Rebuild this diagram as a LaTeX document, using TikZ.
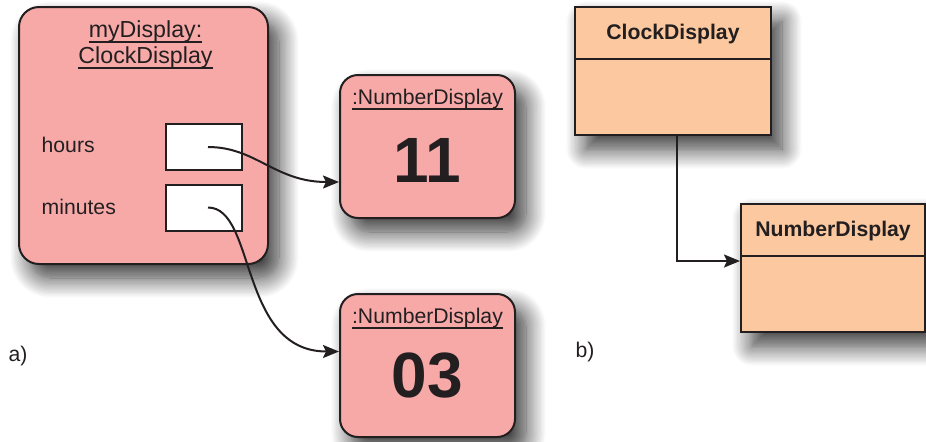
\documentclass[tikz,border=0pt]{standalone}
\usepackage{fontspec}
\setmainfont{Liberation Sans}
\usepackage{tikz}
\usetikzlibrary{positioning,arrows.meta,calc,shadows.blur}
\definecolor{objpink}{HTML}{F7A9A8}
\definecolor{classpeach}{HTML}{FBC8A0}
\definecolor{ink}{HTML}{231F20}
\newcommand{\ulabel}[1]{\begingroup\setbox0\hbox{#1}\rlap{\vrule height -2.2pt depth 3.2pt width \wd0}\box0\endgroup}
\tikzset{
	diagram/.style={x=0.5pt,y=-0.5pt,line width=1pt,draw=ink,
		every node/.append style={text=ink,font=\fontsize{10.6}{13}\selectfont}},
	softshadow/.style={blur shadow={shadow xshift=5.5pt,shadow yshift=-7pt,
		shadow blur radius=10pt,shadow blur steps=16,shadow opacity=80}},
	object/.style={rectangle,rounded corners=9pt,draw=ink,line width=1pt,fill=objpink,softshadow},
	slot/.style={rectangle,draw=ink,line width=1pt,fill=white,minimum width=38pt,minimum height=23pt},
	class/.style={rectangle,draw=ink,line width=1pt,fill=classpeach,softshadow},
	classname/.style={anchor=base,font=\fontsize{10.6}{13}\selectfont\bfseries},
	objname/.style={anchor=base,font=\fontsize{10.6}{13}\selectfont},
	digits/.style={anchor=base,font=\fontsize{32}{36}\selectfont\bfseries},
	ref/.style={-{Stealth[length=8pt,width=6.5pt,inset=1.5pt]},line width=1pt,draw=ink}
}

\begin{document}
\begin{tikzpicture}[diagram]
\useasboundingbox (0,0) rectangle (926,441);

\node[object,rounded corners=10pt,minimum width=124.5pt,minimum height=128.5pt] (clockobj) at (143.5,135.5) {};
\node[objname,font=\fontsize{11.6}{13}\selectfont] (clockobjname) at ($(clockobj.north)+(2,31)$) {\ulabel{myDisplay:}};
\node[objname,font=\fontsize{11.6}{13}\selectfont] (clockobjtype) at ($(clockobj.north)+(2,57)$) {\ulabel{ClockDisplay}};
\node[anchor=west] (hourslabel) at (34,145) {hours};
\node[anchor=west] (minuteslabel) at (34,207) {minutes};
\node[slot] (hours) at (204,147) {};
\node[slot] (minutes) at (204,207.5) {};

\node[object,minimum width=87.5pt,minimum height=71.5pt] (hoursobj) at (427.5,146.5) {};
\node[objname] (hoursobjname) at ($(hoursobj.north)+(0,30)$) {\ulabel{:NumberDisplay}};
\node[digits] (hoursvalue) at ($(hoursobj.north)+(0,108)$) {11};

\node[object,minimum width=87.5pt,minimum height=71.5pt] (minutesobj) at (427.5,365.5) {};
\node[objname] (minutesobjname) at ($(minutesobj.north)+(0,30)$) {\ulabel{:NumberDisplay}};
\node[digits] (minutesvalue) at ($(minutesobj.north)+(0,104)$) {03};

\draw[ref] ([xshift=2pt]hours.center) to[out=0,in=180,out distance=24pt,in distance=32pt] ([yshift=-17.75pt]hoursobj.west);
\draw[ref] ([xshift=2pt]minutes.center) to[out=0,in=180,out distance=24pt,in distance=50pt] ([yshift=7pt]minutesobj.west);

\node[anchor=west] (parta) at (1,356) {a)};

\node[class,minimum width=98pt,minimum height=64pt] (clockclass) at (673,71) {};
\draw ($(clockclass.north west)+(0,53)$) -- ($(clockclass.north east)+(0,53)$);
\node[classname] (clockclassname) at ($(clockclass.north)+(0,33)$) {ClockDisplay};

\node[class,minimum width=92pt,minimum height=64pt] (numclass) at (833,268) {};
\draw ($(numclass.north west)+(0,53)$) -- ($(numclass.north east)+(0,53)$);
\node[classname] (numclassname) at ($(numclass.north)+(0,33)$) {NumberDisplay};

\draw[ref] ([xshift=2pt]clockclass.south) |- ([yshift=3.5pt]numclass.west);

\node[anchor=west] (partb) at (568,352) {b)};
\end{tikzpicture}
\end{document}
